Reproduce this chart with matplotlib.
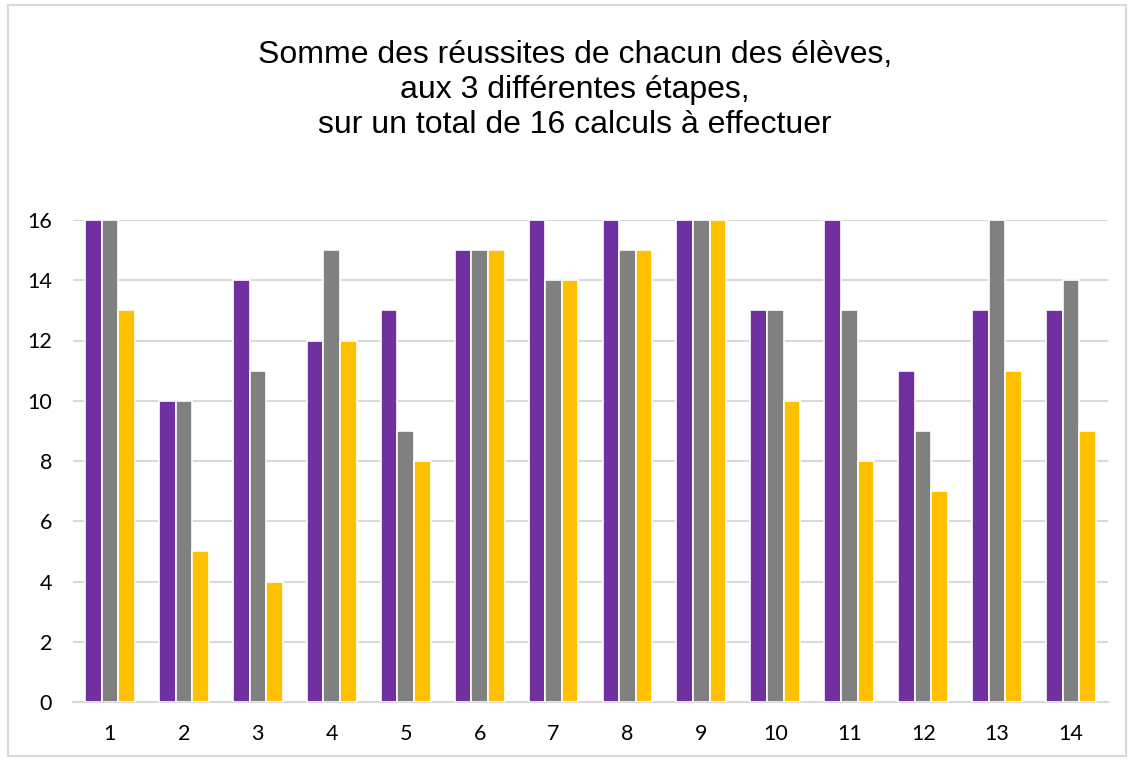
import matplotlib
matplotlib.use("Agg")
import matplotlib.pyplot as plt
import numpy as np
from matplotlib.patches import Rectangle

students = [str(i) for i in range(1, 15)]
etape1 = [16, 10, 14, 12, 13, 15, 16, 16, 16, 13, 16, 11, 13, 13]
etape2 = [16, 10, 11, 15, 9, 15, 14, 15, 16, 13, 13, 9, 16, 14]
etape3 = [13, 5, 4, 12, 8, 15, 14, 15, 16, 10, 8, 7, 11, 9]
yticks = [0, 2, 4, 6, 8, 10, 12, 14, 16]
title = "Somme des réussites de chacun des élèves,\naux 3 différentes étapes,\nsur un total de 16 calculs à effectuer"

colors = ["#7030A0", "#808080", "#FFC000"]

fig = plt.figure(figsize=(11.34, 7.6), dpi=100)
ax = fig.add_axes([73/1134, 1-702/760, (1108-73)/1134, (702-220)/760])

x = np.arange(1, len(students)+1)
w = 0.225
for i, (vals, c) in enumerate(zip([etape1, etape2, etape3], colors)):
    ax.bar(x + (i-1)*w, vals, width=w, color=c, edgecolor="white", linewidth=1.2, zorder=3)

ax.set_xlim(0.5, 14.5)
ax.set_ylim(0, 16)
ax.set_yticks(yticks)
ax.set_xticks(x)
ax.set_xticklabels(students)
ax.grid(axis="y", color="#d9d9d9", linewidth=1.5, zorder=0)
for s in ["top", "right", "left"]:
    ax.spines[s].set_visible(False)
ax.spines["bottom"].set_color("#d9d9d9")
ax.spines["bottom"].set_linewidth(1.5)
ax.tick_params(length=0, labelsize=15.5, colors="#000000")
ax.tick_params(axis="x", pad=16)
ax.tick_params(axis="y", pad=15)
for lab in ax.get_xticklabels() + ax.get_yticklabels():
    lab.set_family("Lato")

fig.text(575/1134, 1-90/760, title, ha="center", va="center", fontsize=23,
         family="Liberation Sans", linespacing=1.22)

fig.patches.append(Rectangle((8/1134, 1-756/760), (1126-8)/1134, (756-5)/760,
                             transform=fig.transFigure, fill=False,
                             edgecolor="#d9d9d9", linewidth=1.5))

fig.savefig("out.png", dpi=100)
